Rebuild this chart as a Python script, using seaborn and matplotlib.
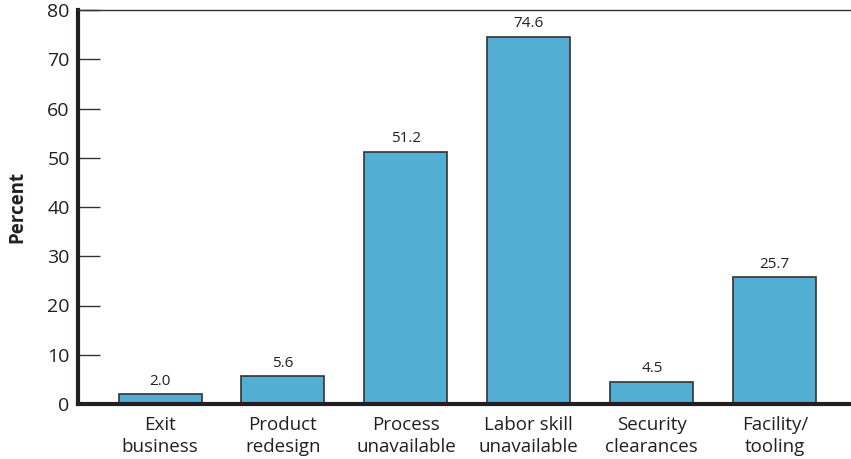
import matplotlib
matplotlib.use("Agg")
import matplotlib.pyplot as plt
import seaborn as sns
import pandas as pd

categories = ["Exit\nbusiness", "Product\nredesign", "Process\nunavailable",
              "Labor skill\nunavailable", "Security\nclearances", "Facility/\ntooling"]
percent = [2.0, 5.6, 51.2, 74.6, 4.5, 25.7]
y_ticks = [0, 10, 20, 30, 40, 50, 60, 70, 80]

sns.set_theme(style="white")
plt.rcParams["font.family"] = ["Open Sans", "DejaVu Sans"]

text_color = "#231f20"
bar_color = "#52aed2"

df = pd.DataFrame({"category": categories, "percent": percent})

fig = plt.figure(figsize=(8.51, 4.59), dpi=100)
ax = fig.add_axes([78 / 851, 55 / 459, 1 - 78 / 851, 394 / 459])

sns.barplot(data=df, x="category", y="percent", color=bar_color, saturation=1,
            width=0.675, edgecolor="#333333", linewidth=1.2, ax=ax)

for container in ax.containers:
    ax.bar_label(container, labels=[f"{v:.1f}" for v in percent],
                 padding=4, fontsize=11, color=text_color)

ax.set_ylim(0, 80)
ax.set_xlim(-0.667, 5.62)
ax.set_yticks(y_ticks)
ax.set_ylabel("Percent", fontsize=13.5, fontweight="bold", color=text_color, labelpad=14)
ax.set_xlabel("")

ax.tick_params(axis="y", direction="in", length=16, width=1, color="#333333",
               labelsize=14, labelcolor=text_color, pad=6, left=True)
ax.tick_params(axis="x", length=0, labelsize=13.5, labelcolor=text_color, pad=9)
for lbl in ax.get_xticklabels():
    lbl.set_linespacing(1.25)

for side in ["left", "bottom"]:
    ax.spines[side].set_linewidth(3)
    ax.spines[side].set_color("#231f20")
ax.spines["top"].set_linewidth(1)
ax.spines["top"].set_color("#333333")
ax.spines["right"].set_visible(False)

fig.savefig("out.png", dpi=100)
